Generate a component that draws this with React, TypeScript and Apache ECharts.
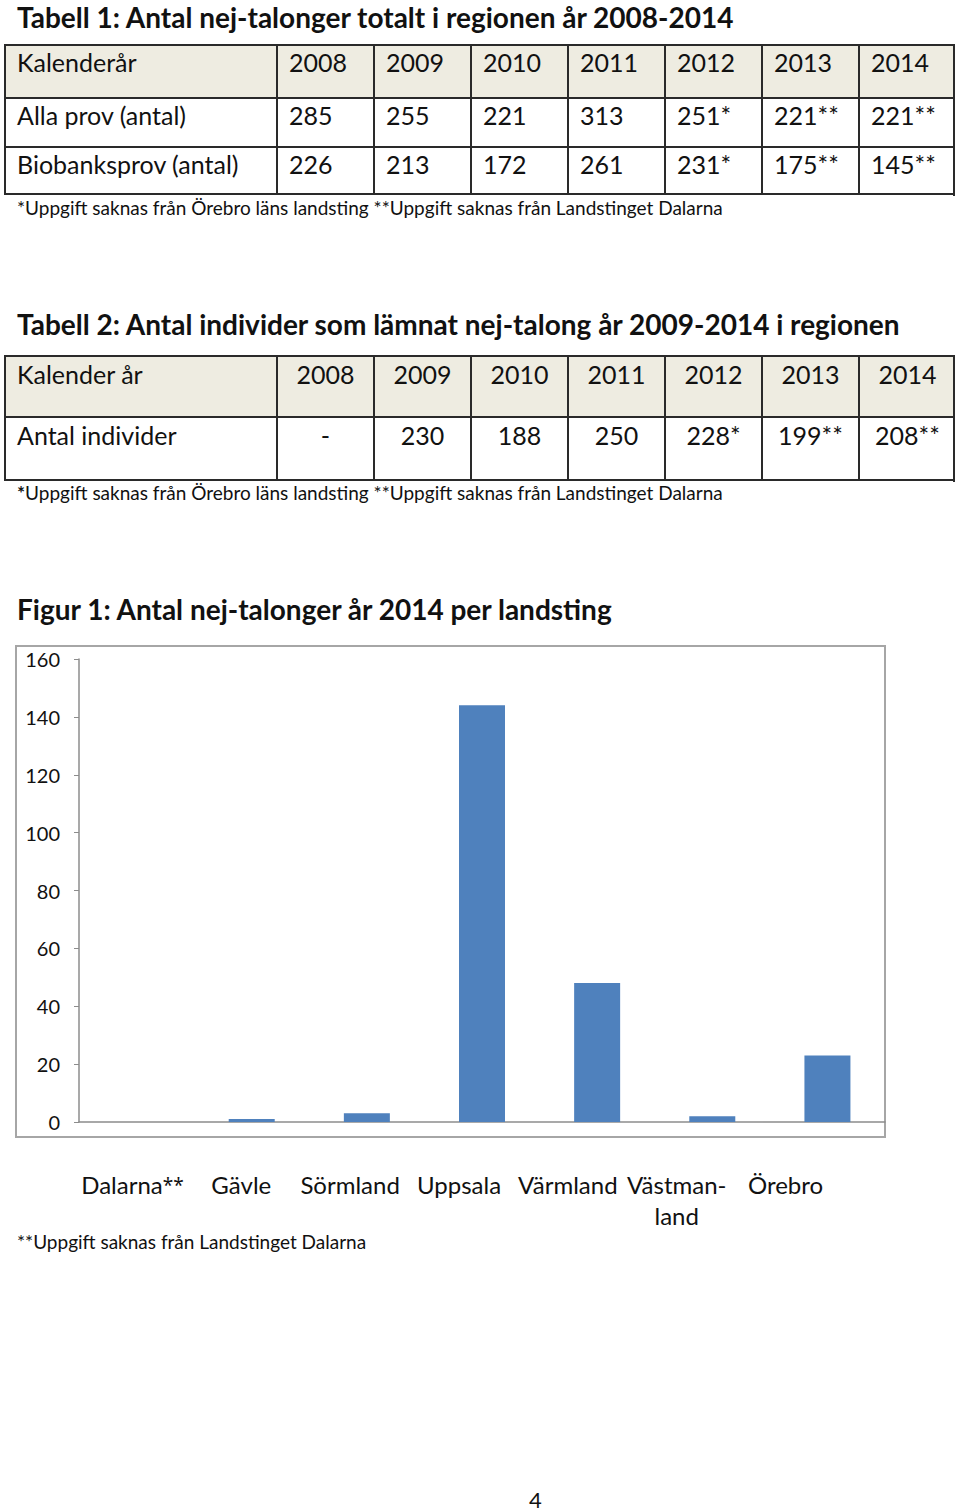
import React, { useEffect, useRef } from "react";
import * as echarts from "echarts";

const FONT = "Lato, 'Noto Sans', sans-serif";

// Tabell 1
const t1Years = ["2008", "2009", "2010", "2011", "2012", "2013", "2014"];
const t1AllaProv = ["285", "255", "221", "313", "251*", "221**", "221**"];
const t1Biobank = ["226", "213", "172", "261", "231*", "175**", "145**"];

// Tabell 2
const t2Years = ["2008", "2009", "2010", "2011", "2012", "2013", "2014"];
const t2Individer = ["-", "230", "188", "250", "228*", "199**", "208**"];

// Figur 1
const categories = ["Dalarna**", "Gävle", "Sörmland", "Uppsala", "Värmland", "Västman-\nland", "Örebro"];
const values = [0, 1, 3, 144, 48, 2, 23];
const yTicks = { min: 0, max: 160, interval: 20 };

const colEdges = [4, 276, 373, 470, 567, 664, 761, 858, 955];

type Row = { cells: string[]; header?: boolean };

function Table(props: { rowEdges: number[]; rows: Row[]; align: "left" | "center"; padTop: number }) {
  const { rowEdges, rows, align, padTop } = props;
  const els: React.ReactNode[] = [];
  const bw = 2;
  rows.forEach((r, ri) => {
    r.cells.forEach((c, ci) => {
      const x0 = colEdges[ci];
      const x1 = colEdges[ci + 1];
      const y0 = rowEdges[ri];
      const y1 = rowEdges[ri + 1];
      els.push(
        <div
          key={ri + "-" + ci}
          style={{
            position: "absolute",
            left: x0,
            top: y0,
            width: x1 - x0,
            height: y1 - y0,
            boxSizing: "border-box",
            borderLeft: `${bw}px solid #2a2a2a`,
            borderTop: `${bw}px solid #2a2a2a`,
            background: r.header ? "#EEECE1" : "#ffffff",
            paddingTop: padTop,
            paddingLeft: ci === 0 || align === "left" ? 11 : 0,
            textAlign: ci === 0 ? "left" : align,
            fontSize: 25,
            lineHeight: "28px",
            whiteSpace: "pre",
            color: "#111",
          }}
        >
          {c}
        </div>
      );
    });
  });
  const L = colEdges[0];
  const R = colEdges[colEdges.length - 1];
  const T = rowEdges[0];
  const B = rowEdges[rowEdges.length - 1];
  els.push(
    <div key="rb" style={{ position: "absolute", left: R - bw, top: T, width: bw, height: B - T + bw, background: "#2a2a2a" }} />
  );
  els.push(
    <div key="bb" style={{ position: "absolute", left: L, top: B - bw + 1, width: R - L, height: bw, background: "#2a2a2a" }} />
  );
  return <>{els}</>;
}

function Chart() {
  const ref = useRef<HTMLDivElement>(null);
  useEffect(() => {
    if (!ref.current) return;
    const chart = echarts.init(ref.current, undefined, { renderer: "svg" });
    const top = 79;
    const bottom = 158;
    chart.setOption({
      animation: false,
      textStyle: { fontFamily: FONT },
      title: {
        text: "Figur 1: Antal nej-talonger år 2014 per landsting",
        left: 12,
        top: 10,
        textStyle: { fontSize: 28, fontWeight: "bold", color: "#111", fontFamily: FONT },
      },
      grid: [
        { left: 79, right: 75, top, bottom, containLabel: false },
        { left: 78, right: 120, top, bottom, containLabel: false },
      ],
      xAxis: [
        {
          type: "category",
          gridIndex: 0,
          data: categories,
          axisLine: { lineStyle: { color: "#8c8c8c", width: 1.5 } },
          axisTick: { show: false },
          axisLabel: { show: false },
        },
        {
          type: "category",
          gridIndex: 1,
          data: categories,
          axisLine: { show: false },
          axisTick: { show: false },
          axisLabel: {
            margin: 47,
            fontSize: 24,
            lineHeight: 31,
            color: "#111",
            fontFamily: FONT,
            interval: 0,
            formatter: (v: string) => (v.endsWith("**") ? v.replace("**", "") + "{s|**}" : v),
            rich: { s: { fontSize: 19, color: "#111", fontFamily: "'Noto Sans', sans-serif" } },
          },
        },
      ],
      yAxis: [
        {
          type: "value",
          gridIndex: 0,
          min: yTicks.min,
          max: yTicks.max,
          interval: yTicks.interval,
          splitLine: { show: false },
          axisLine: { show: true, lineStyle: { color: "#8c8c8c", width: 1.5 } },
          axisTick: { show: true, length: 5, lineStyle: { color: "#8c8c8c" } },
          axisLabel: { margin: 19, fontSize: 20, color: "#111", fontFamily: FONT },
        },
        { type: "value", gridIndex: 1, show: false, min: 0, max: 160 },
      ],
      series: [
        {
          type: "bar",
          xAxisIndex: 0,
          yAxisIndex: 0,
          data: values,
          barWidth: 46,
          itemStyle: { color: "#4F81BD" },
        },
      ],
      graphic: [
        {
          type: "rect",
          shape: { x: 16, y: 66, width: 869, height: 491 },
          style: { fill: "none", stroke: "#a6a6a6", lineWidth: 2 },
          silent: true,
        },
        {
          type: "text",
          x: 17,
          y: 652,
          style: { text: "**Uppgift saknas från Landstinget Dalarna", fontSize: 19, fill: "#111", fontFamily: FONT },
        },
      ],
    });
    return () => chart.dispose();
  }, []);
  return <div ref={ref} style={{ position: "absolute", left: 0, top: 580, width: 960, height: 700 }} />;
}

const titleStyle: React.CSSProperties = {
  position: "absolute",
  left: 17,
  fontSize: 28,
  lineHeight: "34px",
  fontWeight: "bold",
  whiteSpace: "nowrap",
  color: "#111",
};
const noteStyle: React.CSSProperties = {
  position: "absolute",
  left: 17,
  fontSize: 19,
  lineHeight: "24px",
  whiteSpace: "nowrap",
  color: "#111",
};

export default function App() {
  return (
    <div style={{ position: "absolute", left: 0, top: 0, width: 960, height: 1512, background: "#fff", fontFamily: FONT, overflow: "hidden" }}>
      <div style={{ ...titleStyle, top: 0 }}>Tabell 1: Antal nej-talonger totalt i regionen år 2008-2014</div>
      <Table
        rowEdges={[44, 97, 146, 194]}
        align="left"
        padTop={2}
        rows={[
          { cells: ["Kalenderår", ...t1Years], header: true },
          { cells: ["Alla prov (antal)", ...t1AllaProv] },
          { cells: ["Biobanksprov (antal)", ...t1Biobank] },
        ]}
      />
      <div style={{ ...noteStyle, top: 196 }}>*Uppgift saknas från Örebro läns landsting **Uppgift saknas från Landstinget Dalarna</div>
      <div style={{ ...titleStyle, top: 307 }}>Tabell 2: Antal individer som lämnat nej-talong år 2009-2014 i regionen</div>
      <Table
        rowEdges={[355, 416, 480]}
        align="center"
        padTop={3}
        rows={[
          { cells: ["Kalender år", ...t2Years], header: true },
          { cells: ["Antal individer", ...t2Individer] },
        ]}
      />
      <div style={{ ...noteStyle, top: 481 }}>
        <b>*</b>Uppgift saknas från Örebro läns landsting **Uppgift saknas från Landstinget Dalarna
      </div>
      <Chart />
      <div style={{ position: "absolute", left: 529, top: 1486, fontSize: 22, color: "#111" }}>4</div>
    </div>
  );
}
